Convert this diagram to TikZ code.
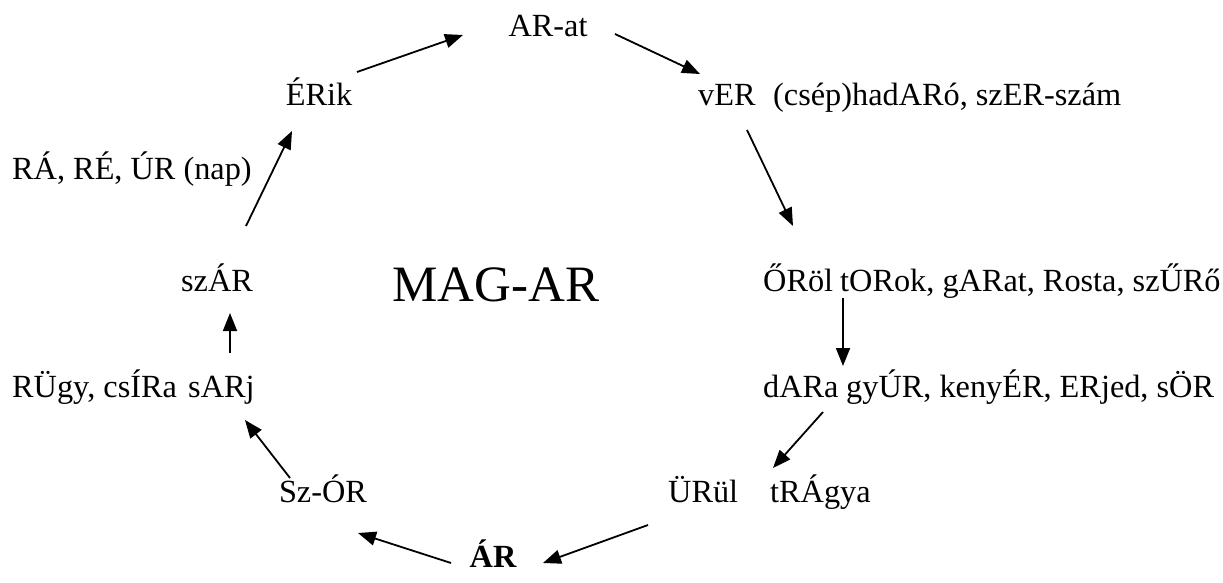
\documentclass[tikz,border=0pt]{standalone}
\usepackage{fontspec}
\setmainfont{Liberation Serif}
\usetikzlibrary{arrows.meta,calc}
\begin{document}
\begin{tikzpicture}[x=1pt,y=-1pt,
  word/.style={inner sep=0pt,font=\fontsize{32.3}{38}\selectfont},
  title/.style={inner sep=0pt,font=\fontsize{51}{60}\selectfont},
  arr/.style={line width=1.8pt,-{Triangle[length=18pt,width=14pt]}}]
\useasboundingbox (0,0) rectangle (1223,583);
% words of the cycle
\node[word,anchor=base] (arat) at (548,37) {AR-at};
\node[word,anchor=base] (erik) at (319,106) {ÉRik};
\node[word,anchor=base west] (ver) at (698,106) {vER};
\node[word,anchor=base west] (vernote) at (773,106) {(csép)hadARó, szER-szám};
\node[word,anchor=base west] (orol) at (763,291) {ŐRöl};
\node[word,anchor=base west] (orolnote) at (840,291) {tORok, gARat, Rosta, szŰRő};
\node[word,anchor=base west] (dara) at (763,397) {dARa};
\node[word,anchor=base west] (daranote) at (846,397) {gyÚR, kenyÉR, ERjed, sÖR};
\node[word,anchor=base west] (urul) at (668,502) {ÜRül};
\node[word,anchor=base west] (tragya) at (770,502) {tRÁgya};
\node[word,anchor=base,font=\fontsize{32.3}{38}\selectfont\bfseries] (ar) at (493,567) {ÁR};
\node[word,anchor=base] (szor) at (323,502) {Sz-ÓR};
\node[word,anchor=base west] (sarj) at (188,397) {sARj};
\node[word,anchor=base west] (rugy) at (12,397) {RÜgy, csÍRa};
\node[word,anchor=base] (szar) at (217,291) {szÁR};
\node[word,anchor=base west] (nap) at (12,179) {RÁ, RÉ, ÚR (nap)};
\node[title,anchor=base] (mag) at (496,301) {MAG-AR};
% arrows round the cycle
\draw[arr] ($(erik.base)+(38,-34)$) -- ($(arat.base)+(-85,-2)$);
\draw[arr] ($(arat.base)+(67,-3)$) -- ($(ver.base west)+(2,-32)$);
\draw[arr] ($(ver.base west)+(49,24)$) -- ($(orol.base west)+(30,-65)$);
\draw[arr] ($(orol.base west)+(80,7)$) -- ($(dara.base west)+(80,-31)$);
\draw[arr] ($(dara.base west)+(60,15)$) -- ($(urul.base west)+(105,-34)$);
\draw[arr] ($(urul.base west)+(-20,23)$) -- ($(ar.base)+(50,-4)$);
\draw[arr] ($(ar.base)+(-42,-4)$) -- ($(szor.base)+(35,31)$);
\draw[arr] ($(szor.base)+(-33,-24)$) -- ($(sarj.base west)+(57,23)$);
\draw[arr] ($(sarj.base west)+(42,-44)$) -- ($(szar.base)+(13,22)$);
\draw[arr] ($(szar.base)+(29,-65)$) -- ($(erik.base)+(-27,25)$);
\end{tikzpicture}
\end{document}
